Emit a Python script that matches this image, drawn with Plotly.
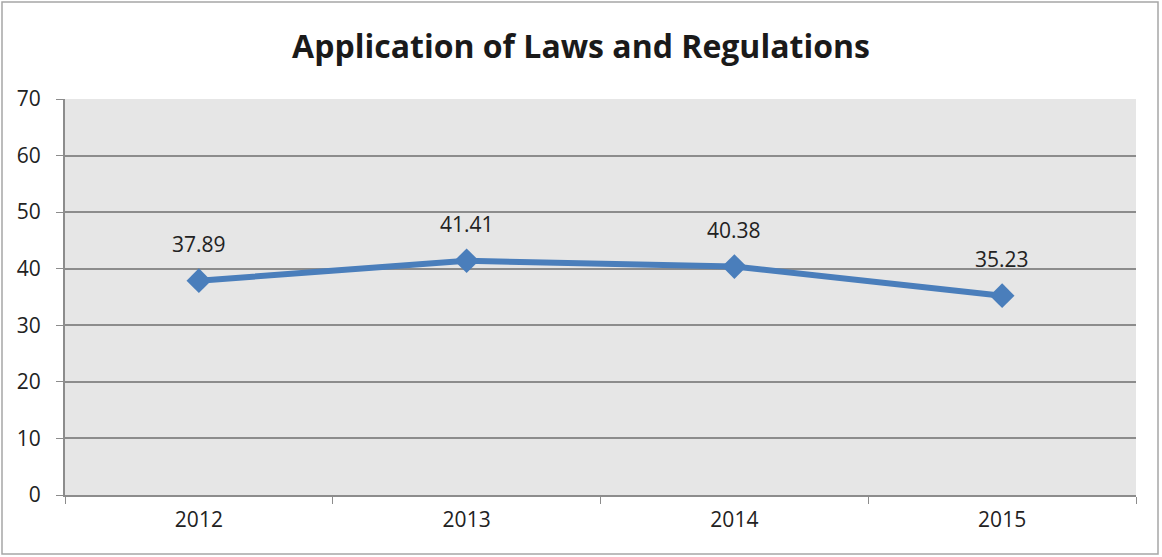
import plotly.graph_objects as go

years = ["2012", "2013", "2014", "2015"]
scores = [37.89, 41.41, 40.38, 35.23]
y_ticks = [0, 10, 20, 30, 40, 50, 60, 70]

W, H = 1162, 557
L, R, T, B = 65, 26, 99, 62
pw, ph = W - L - R, H - T - B

fig = go.Figure()
fig.add_trace(go.Scatter(
    x=years, y=scores, mode="lines+markers",
    line=dict(color="#4a7ebb", width=6),
    marker=dict(symbol="diamond", size=19, color="#4a7ebb"),
    hoverinfo="x+y", showlegend=False,
))

# value labels above each point (positioned by category index)
for i, v in enumerate(scores):
    fig.add_annotation(x=i, y=v, xref="x", yref="y", text=f"{v:.2f}",
                       showarrow=False, yshift=37,
                       font=dict(size=21, color="#222222"))

# outer chart border
fig.add_shape(type="rect", xref="paper", yref="paper",
              x0=(2 - L) / pw, x1=(1158 - L) / pw,
              y0=(T + ph - 554) / ph, y1=(T + ph - 2) / ph,
              line=dict(color="#a6a6a6", width=1.5), layer="below")

fig.update_layout(
    width=W, height=H,
    margin=dict(l=L, r=R, t=T, b=B),
    paper_bgcolor="white", plot_bgcolor="#e6e6e6",
    font=dict(family="'Open Sans', sans-serif", size=21, color="#222222"),
    title=dict(text="<b>Application of Laws and Regulations</b>",
               x=0.5, xanchor="center", y=1 - 47 / H, yanchor="middle",
               font=dict(size=32, color="#1a1a1a")),
)
fig.update_xaxes(type="category", tickson="boundaries", ticks="outside",
                 ticklen=7, tickcolor="#8c8c8c", showgrid=False,
                 showline=True, linecolor="#8c8c8c", linewidth=2,
                 range=[-0.5, 3.5], tickfont=dict(size=21),
                 ticklabelstandoff=5)
fig.update_yaxes(range=[0, 70], tickvals=y_ticks, ticks="outside", ticklen=7,
                 tickcolor="#8c8c8c", showgrid=True, gridcolor="#8c8c8c",
                 gridwidth=1.5, showline=True, linecolor="#8c8c8c",
                 linewidth=2, zeroline=False, tickfont=dict(size=21),
                 ticklabelstandoff=11)

fig.write_html("out.html")
